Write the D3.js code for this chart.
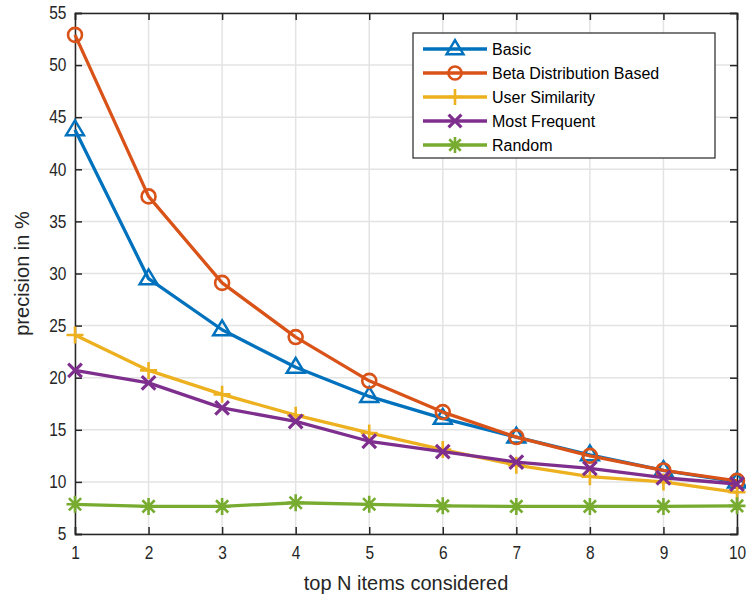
<!DOCTYPE html>
<html><head><meta charset="utf-8">
<script src="https://cdn.jsdelivr.net/npm/d3@7"></script>
<style>body{margin:0;background:#fff}svg{font-family:"Liberation Sans",Arial,Helvetica,sans-serif}</style>
</head><body>
<svg id="c" width="746" height="600"></svg>
<script>
const topN = [1,2,3,4,5,6,7,8,9,10];
const basic = [43.8,29.5,24.6,21.0,18.2,16.1,14.3,12.6,11.1,10.0];
const betaDist = [52.9,37.4,29.1,23.9,19.7,16.7,14.3,12.5,11.1,10.1];
const userSim = [24.1,20.7,18.4,16.4,14.7,13.1,11.6,10.5,10.0,9.0];
const mostFreq = [20.7,19.5,17.1,15.8,13.9,12.9,11.9,11.3,10.4,9.8];
const randomRec = [7.85,7.65,7.65,8.0,7.85,7.7,7.65,7.65,7.65,7.7];
const seriesNames = ["Basic","Beta Distribution Based","User Similarity","Most Frequent","Random"];
const colors = ["#0072BD","#D95319","#EDB120","#7E2F8E","#77AC30"];
const markers = ["triangle","circle","plus","cross","asterisk"];
const yTicks = [5,10,15,20,25,30,35,40,45,50,55];

const series = [basic,betaDist,userSim,mostFreq,randomRec];
const svg = d3.select("#c");
const L=75,R=737,T=13,B=534;
const x = d3.scaleLinear().domain([1,10]).range([L,R]);
const y = d3.scaleLinear().domain([5,55]).range([B,T]);

// grid
const g = svg.append("g");
g.selectAll(".gx").data(topN).enter().append("line")
 .attr("x1",d=>x(d)).attr("x2",d=>x(d)).attr("y1",T).attr("y2",B)
 .attr("stroke","#e3e3e3").attr("stroke-width",1.5);
g.selectAll(".gy").data(yTicks).enter().append("line")
 .attr("y1",d=>y(d)).attr("y2",d=>y(d)).attr("x1",L).attr("x2",R)
 .attr("stroke","#e3e3e3").attr("stroke-width",1.5);

// axes
const ax = svg.append("g").attr("transform",`translate(0,${B})`)
 .call(d3.axisBottom(x).tickValues(topN).tickSize(-7).tickPadding(12).tickFormat(d3.format("d")));
const axT = svg.append("g").attr("transform",`translate(0,${T})`)
 .call(d3.axisTop(x).tickValues(topN).tickSize(-7).tickFormat(""));
const ay = svg.append("g").attr("transform",`translate(${L},0)`)
 .call(d3.axisLeft(y).tickValues(yTicks).tickSize(-7).tickPadding(10));
const ayR = svg.append("g").attr("transform",`translate(${R},0)`)
 .call(d3.axisRight(y).tickValues(yTicks).tickSize(-7).tickFormat(""));
[ax,axT,ay,ayR].forEach(a=>{
  a.selectAll("path").attr("stroke","#262626").attr("stroke-width",1.5);
  a.selectAll("line").attr("stroke","#262626").attr("stroke-width",1.5);
  a.selectAll("text").attr("fill","#262626").style("font-size","18px")
   .attr("transform","scale(0.86,1)");
});

// marker drawing
function drawMarker(sel, type, color, s){
  if(type==="triangle"){
    sel.append("path").attr("d",`M0,${-s*1.1}L${s*1.05},${s*0.65}L${-s*1.05},${s*0.65}Z`)
      .attr("fill","none").attr("stroke",color).attr("stroke-width",2.5);
  } else if(type==="circle"){
    sel.append("circle").attr("r",s*0.82).attr("fill","none").attr("stroke",color).attr("stroke-width",2.6);
  } else if(type==="plus"){
    sel.append("path").attr("d",`M${-s},0H${s}M0,${-s}V${s}`).attr("stroke",color).attr("stroke-width",2.6);
  } else if(type==="cross"){
    const k=s*0.8;
    sel.append("path").attr("d",`M${-k},${-k}L${k},${k}M${-k},${k}L${k},${-k}`).attr("stroke",color).attr("stroke-width",3.2);
  } else {
    const k=s*0.72;
    sel.append("path").attr("d",`M${-s},0H${s}M0,${-s}V${s}M${-k},${-k}L${k},${k}M${-k},${k}L${k},${-k}`).attr("stroke",color).attr("stroke-width",2.6);
  }
}

const line = d3.line().x((d,i)=>x(topN[i])).y(d=>y(d));
series.forEach((s,si)=>{
  const sg = svg.append("g");
  sg.append("path").datum(s).attr("d",line).attr("fill","none")
    .attr("stroke",colors[si]).attr("stroke-width",3.3).attr("stroke-linejoin","round");
  s.forEach((v,i)=>{
    const m = sg.append("g").attr("transform",`translate(${x(topN[i])},${y(v)})`);
    drawMarker(m, markers[si], colors[si], 8.5);
  });
});

// legend
const lg = svg.append("g");
lg.append("rect").attr("x",413).attr("y",33).attr("width",302).attr("height",125)
  .attr("fill","#fff").attr("stroke","#262626").attr("stroke-width",1.2);
seriesNames.forEach((n,i)=>{
  const yy = 49 + i*24;
  lg.append("line").attr("x1",423).attr("x2",487).attr("y1",yy).attr("y2",yy)
    .attr("stroke",colors[i]).attr("stroke-width",3.3);
  const m = lg.append("g").attr("transform",`translate(455,${yy})`);
  drawMarker(m, markers[i], colors[i], 8);
  lg.append("text").attr("x",492).attr("y",yy).attr("dy","0.36em")
    .style("font-size","16px").attr("fill","#000").text(n);
});

// labels
svg.append("text").attr("x",(L+R)/2).attr("y",590).attr("text-anchor","middle")
  .style("font-size","20px").attr("fill","#262626").text("top N items considered");
svg.append("text").attr("transform",`translate(29,${(T+B)/2}) rotate(-90)`).attr("text-anchor","middle")
  .style("font-size","20px").attr("fill","#262626").text("precision in %");
</script>
</body></html>
